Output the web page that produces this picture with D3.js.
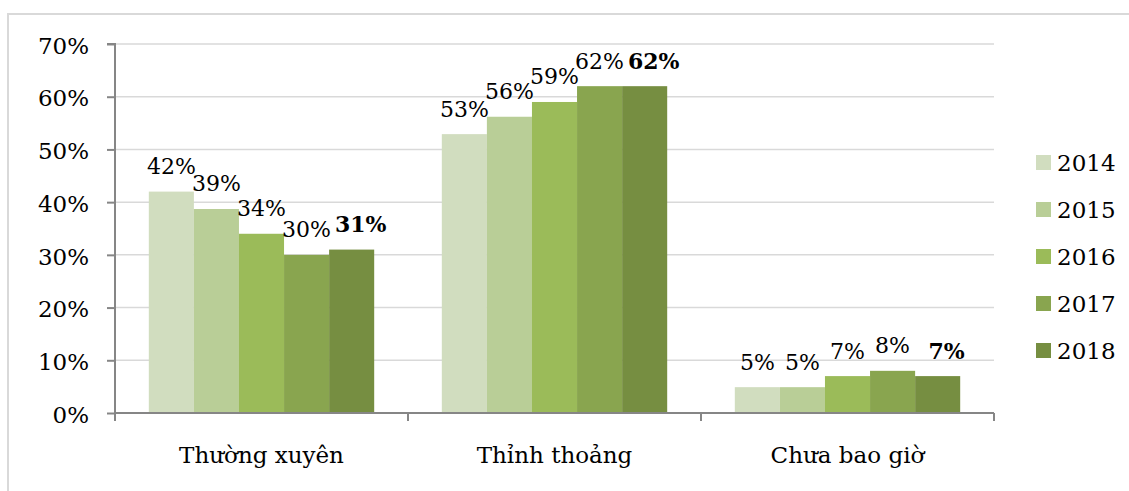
<!DOCTYPE html>
<html>
<head>
<meta charset="utf-8">
<script src="https://cdn.jsdelivr.net/npm/d3@7"></script>
<style>
  html, body { margin: 0; padding: 0; background: #fff; }
  svg { display: block; }
  text { font-family: "DejaVu Serif", serif; fill: #000; }
</style>
</head>
<body>
<svg id="chart" width="1129" height="491"></svg>
<script>
const categories = ["Thường xuyên", "Thỉnh thoảng", "Chưa bao giờ"];
const years = ["2014", "2015", "2016", "2017", "2018"];
const values2014 = [0.42, 0.529, 0.049];
const values2015 = [0.387, 0.562, 0.049];
const values2016 = [0.34, 0.59, 0.07];
const values2017 = [0.30, 0.62, 0.08];
const values2018 = [0.31, 0.62, 0.07];
const seriesValues = [values2014, values2015, values2016, values2017, values2018];
const yTicks = [0, 0.1, 0.2, 0.3, 0.4, 0.5, 0.6, 0.7];
const colors = ["#d1ddbf", "#b9ce97", "#9bbb59", "#89a54f", "#768e41"];

const svg = d3.select("#chart");

// outer chart border (top and left visible)
svg.append("rect")
  .attr("x", 8).attr("y", 14)
  .attr("width", 1140).attr("height", 500)
  .attr("fill", "none").attr("stroke", "#d9d9d9").attr("stroke-width", 2);

const plot = { left: 115, right: 994, top: 44, bottom: 413 };

const y = d3.scaleLinear().domain([0, 0.7]).range([plot.bottom, plot.top]);
const x0 = d3.scaleBand().domain(categories).range([plot.left, plot.right]).padding(0);
const x1 = d3.scaleBand().domain(years).range([0, x0.bandwidth()]).paddingInner(0).paddingOuter(0.75);

// gridlines
svg.append("g").selectAll("line").data(yTicks.slice(1)).join("line")
  .attr("x1", plot.left).attr("x2", plot.right)
  .attr("y1", d => y(d)).attr("y2", d => y(d))
  .attr("stroke", "#d9d9d9").attr("stroke-width", 1.5);

// bars
const data = [];
categories.forEach((c, ci) => {
  years.forEach((yr, si) => {
    data.push({ cat: c, year: yr, si, value: seriesValues[si][ci] });
  });
});

svg.append("g").selectAll("rect").data(data).join("rect")
  .attr("x", d => x0(d.cat) + x1(d.year))
  .attr("y", d => y(d.value))
  .attr("width", x1.bandwidth())
  .attr("height", d => y(0) - y(d.value))
  .attr("fill", d => colors[d.si]);

// y axis
const yAxis = d3.axisLeft(y).tickValues(yTicks).tickFormat(d3.format(".0%")).tickSize(8).tickPadding(18);
const gy = svg.append("g").attr("transform", `translate(${plot.left},0)`).call(yAxis);
gy.select(".domain").attr("stroke", "#868686").attr("stroke-width", 2).attr("d", `M-8,${plot.top}H0V${plot.bottom}`);
gy.selectAll(".tick line").attr("stroke", "#868686").attr("stroke-width", 2);
gy.selectAll(".tick text").attr("font-family", "DejaVu Serif").attr("font-size", 23).attr("fill", "#000").attr("dy", "0.4em");

// x axis
const xAxis = d3.axisBottom(x0).tickSize(0).tickPadding(30);
const gx = svg.append("g").attr("transform", `translate(0,${plot.bottom})`).call(xAxis);
gx.select(".domain").attr("stroke", "#868686").attr("stroke-width", 2).attr("d", `M${plot.left},0H${plot.right}`);
gx.selectAll(".tick text").attr("font-family", "DejaVu Serif").attr("font-size", 23).attr("fill", "#000").attr("dy", "0.85em");
// category separator ticks
const sepTicks = categories.map(c => x0(c)).concat([x0(categories[categories.length - 1]) + x0.bandwidth()]);
gx.append("g").selectAll("line").data(sepTicks).join("line")
  .attr("x1", d => d).attr("x2", d => d).attr("y1", 0).attr("y2", 8)
  .attr("stroke", "#868686").attr("stroke-width", 2);

// data labels
svg.append("g").selectAll("text").data(data).join("text")
  .attr("x", d => x0(d.cat) + x1(d.year) + x1.bandwidth() / 2 + (d.si === 4 ? 9 : 0))
  .attr("y", d => y(d.value) - 17.5)
  .attr("text-anchor", "middle")
  .attr("font-size", 22)
  .attr("font-weight", d => d.si === 4 ? "bold" : "normal")
  .text(d => d3.format(".0%")(d.value));

// legend
const legend = svg.append("g").attr("transform", "translate(1036,162)");
const li = legend.selectAll("g").data(years).join("g")
  .attr("transform", (d, i) => `translate(0,${i * 47})`);
li.append("rect").attr("x", 0).attr("y", -7).attr("width", 15).attr("height", 15)
  .attr("fill", (d, i) => colors[i]);
li.append("text").attr("x", 21).attr("y", 0).attr("dy", "0.38em")
  .attr("font-size", 23).text(d => d);
</script>
</body>
</html>
